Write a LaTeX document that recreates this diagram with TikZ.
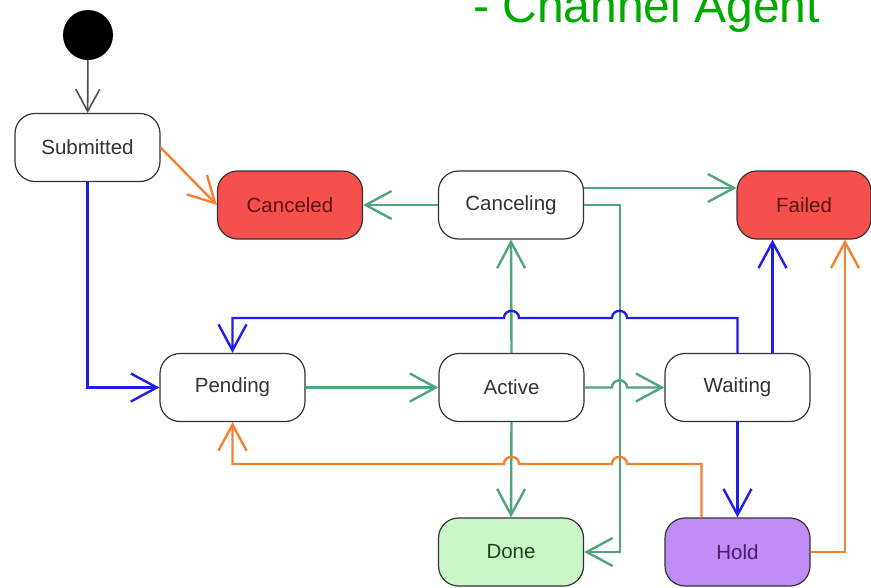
\documentclass[tikz,border=0pt]{standalone}
\usepackage{fontspec}
\setmainfont{Liberation Sans}
\usetikzlibrary{arrows.meta}
\definecolor{gline}{RGB}{80,165,125}
\definecolor{bline}{RGB}{30,30,230}
\definecolor{oline}{RGB}{240,130,50}
\definecolor{redfill}{RGB}{245,80,75}
\definecolor{redtext}{RGB}{90,20,20}
\definecolor{donefill}{RGB}{200,247,200}
\definecolor{donetext}{RGB}{25,70,25}
\definecolor{holdfill}{RGB}{192,140,245}
\definecolor{holdtext}{RGB}{70,30,110}
\definecolor{titlegreen}{RGB}{0,170,0}
\begin{document}
\begin{tikzpicture}[x=1pt,y=-1pt,
  state/.style={draw=black!80, line width=1.2pt, rounded corners=20pt,
    minimum width=145pt, minimum height=68pt, inner sep=0pt,
    font=\fontsize{20.5}{24}\selectfont, text=black!80, fill=white},
  conn/.style={line width=2.4pt, -{Straight Barb[length=26pt,width=28pt]}},
  gconn/.style={conn, draw=gline},
  bconn/.style={conn, draw=bline},
  oconn/.style={conn, draw=oline}
]
\useasboundingbox (0,0) rectangle (871,587);
\clip (0,0) rectangle (871,587);

\node[anchor=base west, inner sep=0pt, text=titlegreen,
  font=\fontsize{48}{52}\selectfont] (title) at (473,22) {- Channel Agent};

\node[circle, fill=black, minimum size=50pt, inner sep=0pt] (init) at (88,35) {};
\node[state] (sub) at (87.5,147.5) {Submitted};
\node[state, fill=redfill, text=redtext] (canceled) at (290,205) {Canceled};
\node[state] (canceling) at (511,205) {Canceling};
\node[state, fill=redfill, text=redtext, minimum width=134pt] (failed) at (804,205) {Failed};
\node[state] (pending) at (232.5,387.5) {Pending};
\node[state] (active) at (511.5,387.5) {Active};
\node[state] (waiting) at (737.5,387.5) {Waiting};
\node[state, fill=donefill, text=donetext] (done) at (511,552) {Done};
\node[state, fill=holdfill, text=holdtext] (hold) at (737.5,552) {Hold};

% initial
\draw[line width=1.6pt, draw=black!70, -{Straight Barb[length=22pt,width=24pt]}] (init) -- (sub);
% Submitted
\draw[oconn] (sub.east) -- (canceled.west);
\draw[bconn] (sub.south) |- (pending.west);
% Canceling
\draw[gconn] (canceling.west) -- (canceled.east);
\draw[gconn] ([yshift=17pt]canceling.east) -- ([yshift=17pt]failed.west);
\draw[gconn] (canceling.east) -| ([xshift=36pt]done.east) -- (done.east);
% Active
\draw[gconn] (active.north) -- (canceling.south);
\draw[gconn] (active.south) -- (done.north);
\draw[gconn] (pending.east) -- (active.west);
\draw[gconn] (active.east) -- (612,387.5) .. controls (612,378) and (627,378) .. (627,387.5) -- (waiting.west);
% Waiting
\draw[bconn] (waiting.north) -- (737.5,318) -- (627,318)
  .. controls (627,308.5) and (612,308.5) .. (612,318) -- (519,318)
  .. controls (519,308.5) and (504,308.5) .. (504,318) -- (232.5,318) -- (pending.north);
\draw[bconn] ([xshift=35pt]waiting.north) -- ([xshift=35pt]waiting.north |- failed.south);
\draw[bconn] (waiting.south) -- (hold.north);
% Hold
\draw[oconn] ([xshift=-36pt]hold.north) -- (701.5,464) -- (627,464)
  .. controls (627,454.5) and (612,454.5) .. (612,464) -- (519,464)
  .. controls (519,454.5) and (504,454.5) .. (504,464) -- (232.5,464) -- (pending.south);
\draw[oconn] (hold.east) -| ([xshift=41pt]failed.south);
\end{tikzpicture}
\end{document}
